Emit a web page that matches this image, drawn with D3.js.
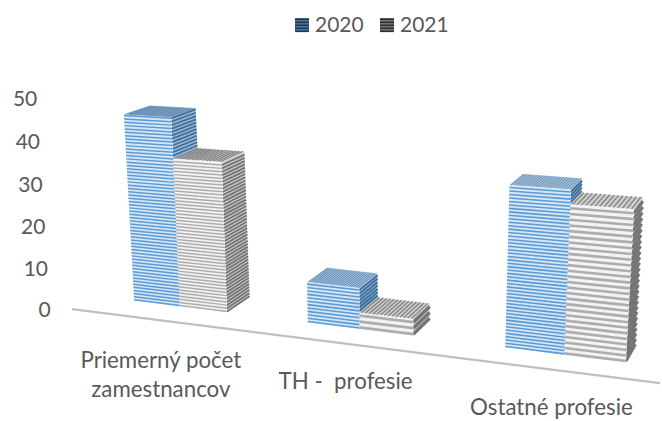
<!DOCTYPE html>
<html>
<head>
<meta charset="utf-8">
<script src="https://cdn.jsdelivr.net/npm/d3@7"></script>
<style>
  html, body { margin: 0; padding: 0; background: #fff; }
  text { font-family: Lato, "Open Sans", sans-serif; fill: #595959; }
</style>
</head>
<body>
<svg id="chart" width="662" height="421"></svg>
<script>
var categories = ["Priemerný počet zamestnancov", "TH -  profesie", "Ostatné profesie"],
  series = ["2020", "2021"],
  values2020 = [45, 9.5, 35],
  values2021 = [35.5, 3.8, 32],
  yTicks = [0, 10, 20, 30, 40, 50];

var svg = d3.select("#chart"),
  vp = [910, -150],   // vanishing point of the depth edges
  depth = 0.033,
  axisGap = -0.03;

var x = d3.scaleBand().domain(categories).range([0, 1]).paddingInner(0.45).paddingOuter(0.225),
  x1 = d3.scaleBand().domain(series).range([0, x.bandwidth()]),
  y = d3.scaleLinear().domain([0, 50]).range([0, 1]);

// corners of the front wall: u=0 v=0, u=1 v=0, u=1 v=1, u=0 v=1
var wall = quad([98, 296], [678, 369], [694, 121], [85, 91]);

function quad(p0, p1, p2, p3) {
  var dx1 = p1[0] - p2[0], dx2 = p3[0] - p2[0], sx = p0[0] - p1[0] + p2[0] - p3[0],
    dy1 = p1[1] - p2[1], dy2 = p3[1] - p2[1], sy = p0[1] - p1[1] + p2[1] - p3[1],
    den = dx1 * dy2 - dx2 * dy1,
    g = (sx * dy2 - dx2 * sy) / den,
    h = (dx1 * sy - sx * dy1) / den,
    a = p1[0] - p0[0] + g * p1[0], b = p3[0] - p0[0] + h * p3[0],
    d = p1[1] - p0[1] + g * p1[1], e = p3[1] - p0[1] + h * p3[1];
  return function (u, v) {
    var w = g * u + h * v + 1;
    return [(a * u + b * v + p0[0]) / w, (d * u + e * v + p0[1]) / w];
  };
}

function toVp(p, f) {
  return [p[0] + f * (vp[0] - p[0]), p[1] + f * (vp[1] - p[1])];
}

var line = d3.line();

var defs = svg.append("defs");
defs.append("filter").attr("id", "soft")
  .append("feGaussianBlur").attr("stdDeviation", 0.45);

var styles = {
  "2020": {
    front: ["#d5e6f6", "#5b9bd5"], side: ["#9fbcd8", "#3f6f9c"], top: ["#9dbcd8", "#5f88ae"],
    periods: [3.3, 3.6, 3.5], topN: 22
  },
  "2021": {
    front: ["#f3f3f3", "#adadad"], side: ["#cfcfcf", "#747474"], top: ["#cdcdcd", "#808080"],
    periods: [3.3, 6.3, 5.8], topN: 14
  }
};

// axis line
svg.append("path")
  .attr("d", line([[72, axisY(72)], [660, axisY(660)]]))
  .attr("stroke", "#bfbfbf").attr("stroke-width", 2.2).attr("fill", "none");

function axisY(px) {
  var a = toVp(wall(0, 0), axisGap), b = toVp(wall(1, 0), axisGap);
  return a[1] + (px - a[0]) * (b[1] - a[1]) / (b[0] - a[0]);
}

var bars = svg.append("g").attr("filter", "url(#soft)");

categories.forEach(function (cat, i) {
  drawBar(cat, "2020", values2020[i], i);
  drawBar(cat, "2021", values2021[i], i);
});

function drawBar(cat, s, val, i) {
  var st = styles[s],
    u0 = x(cat) + x1(s),
    u1 = u0 + x1.bandwidth(),
    v = y(val),
    g = bars.append("g");

  var fl = wall(u0, 0), fr = wall(u1, 0), tl = wall(u0, v), tr = wall(u1, v);

  // top
  g.append("path").attr("d", line([tl, tr, toVp(tr, depth), toVp(tl, depth)]) + "Z").attr("fill", st.top[0]);
  d3.range(st.topN).forEach(function (k) {
    var u = u0 + (u1 - u0) * (k + 0.5) / st.topN, p = wall(u, v);
    g.append("path").attr("d", line([p, toVp(p, depth)]))
      .attr("stroke", st.top[1]).attr("stroke-width", (u1 - u0) * 190 / st.topN);
  });

  // side
  g.append("path").attr("d", line([fr, tr, toVp(tr, depth), toVp(fr, depth)]) + "Z").attr("fill", st.side[0]);
  var dv = (y.invert(1) / wallHeight(u1)) * st.periods[i];
  d3.range(dv / 4, val, dv).forEach(function (t) {
    var p = wall(u1, y(t));
    g.append("path").attr("d", line([p, toVp(p, depth)]))
      .attr("stroke", st.side[1]).attr("stroke-width", st.periods[i] * 0.55);
  });

  // front
  g.append("path").attr("d", line([fl, fr, tr, tl]) + "Z").attr("fill", st.front[0]);
  d3.range(dv / 4, val, dv).forEach(function (t) {
    g.append("path").attr("d", line([wall(u0, y(t)), wall(u1, y(t))]))
      .attr("stroke", st.front[1]).attr("stroke-width", st.periods[i] * 0.45);
  });
}

function wallHeight(u) {
  return wall(u, 0)[1] - wall(u, 1)[1];
}

// y labels
yTicks.forEach(function (t) {
  var p = toVp(wall(0, y(t)), axisGap);
  svg.append("text")
    .attr("x", p[0] - 23).attr("y", p[1]).attr("dy", "0.35em")
    .attr("text-anchor", "end").attr("font-size", 21)
    .text(t);
});

// category labels, nudged by hand
var catLines = [["Priemerný počet", "zamestnancov"], ["TH -  profesie"], ["Ostatné profesie"]],
  catNudge = [[-19, 62], [-14, 60], [-13, 60]];
categories.forEach(function (cat, i) {
  var p = wall(x(cat) + x.bandwidth() / 2, 0);
  var t = svg.append("text")
    .attr("text-anchor", "middle").attr("font-size", 22.3)
    .attr("xml:space", "preserve");
  catLines[i].forEach(function (l, k) {
    t.append("tspan").attr("x", p[0] + catNudge[i][0]).attr("y", p[1] + catNudge[i][1] + k * 29).text(l);
  });
});

// legend
var legendX = d3.scaleOrdinal().domain(series).range([295, 380]);
var swatch = { "2020": ["#4f7aa3", "#1f3a57"], "2021": ["#7d7d7d", "#2f2f2f"] };
series.forEach(function (s) {
  var g = svg.append("g").attr("transform", "translate(" + legendX(s) + ",18)");
  g.append("rect").attr("width", 14).attr("height", 14).attr("fill", swatch[s][0]);
  d3.range(1.5, 14, 3).forEach(function (yy) {
    g.append("rect").attr("y", yy - 1).attr("width", 14).attr("height", 1.6).attr("fill", swatch[s][1]);
  });
  g.append("text").attr("x", 20).attr("y", 14).attr("font-size", 21).text(s);
});
</script>
</body>
</html>
